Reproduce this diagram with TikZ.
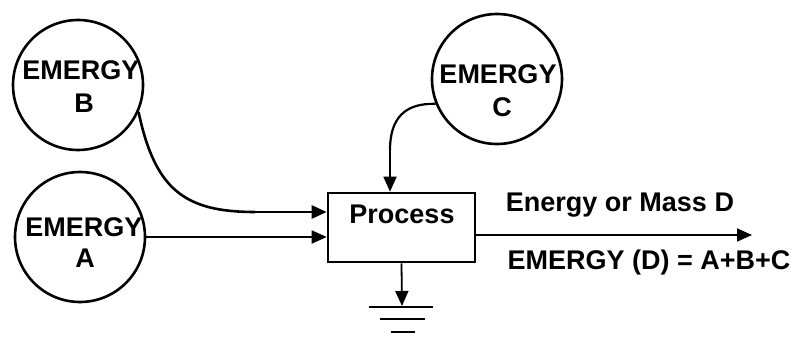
\documentclass[tikz,border=0pt]{standalone}
\usepackage{fontspec}
\setmainfont{Liberation Sans}
\usetikzlibrary{arrows.meta}
\tikzset{
  src/.style={circle, draw, line width=2.6pt, minimum size=130pt, inner sep=0pt},
  lbl/.style={font=\fontsize{27}{29}\selectfont\bfseries, inner sep=0pt, anchor=center},
  procbox/.style={draw, line width=2.6pt, minimum width=147pt, minimum height=69pt, inner sep=0pt},
  flow/.style={line width=1.8pt, -{Triangle[length=15pt,width=13pt]}},
  thickflow/.style={line width=2.6pt, -{Triangle[length=15pt,width=13pt]}},
  gnd/.style={line width=2.4pt}
}
\begin{document}
\begin{tikzpicture}[x=1pt,y=-1pt]
\useasboundingbox (0,0) rectangle (807,337);
% sources
\node[src] (B) at (78,85) {};
\node[src] (A) at (80,237) {};
\node[src] (C) at (497,79) {};
\node[lbl] (Bt1) at (81,70) {EMERGY};
\node[lbl] (Bt2) at (84,103) {B};
\node[lbl] (At1) at (84,227) {EMERGY};
\node[lbl] (At2) at (85,258) {A};
\node[lbl] (Ct1) at (498,74) {EMERGY};
\node[lbl] (Ct2) at (502,107) {C};
% process
\node[procbox] (P) at (401.5,227.5) {};
\node[lbl] (Pt) at (402,214) {Process};
% connectors
\coordinate (bmid) at (255,212);
\draw[line width=2.6pt] (B.-24) .. controls (155,190) and (185,212) .. (bmid);
\draw[thickflow] (bmid) -- ([yshift=15.5pt]P.west);
\draw[flow] (A.east) -- ([yshift=-9.5pt]P.west);
\coordinate (cmid) at (390,150);
\draw[line width=2.2pt] (C.-158) .. controls (405,103) and (390,118) .. (cmid);
\draw[flow] (cmid) -- ([xshift=-11.5pt]P.north);
% output
\coordinate (Dend) at (752,235);
\draw[flow] ([yshift=-7.5pt]P.east) -- (Dend);
\node[lbl] (Dt1) at (620,205) {Energy or Mass D};
\node[lbl] (Dt2) at (649,263) {EMERGY (D) = A+B+C};
% ground
\coordinate (g1) at (402,306);
\draw[flow] (P.south) -- (g1);
\coordinate (gl1) at (369,307);
\coordinate (gr1) at (433,307);
\coordinate (gl2) at (380,319);
\coordinate (gr2) at (425,319);
\coordinate (gl3) at (391,332);
\coordinate (gr3) at (415,332);
\draw[gnd] (gl1) -- (gr1);
\draw[gnd] (gl2) -- (gr2);
\draw[gnd] (gl3) -- (gr3);
\end{tikzpicture}
\end{document}
